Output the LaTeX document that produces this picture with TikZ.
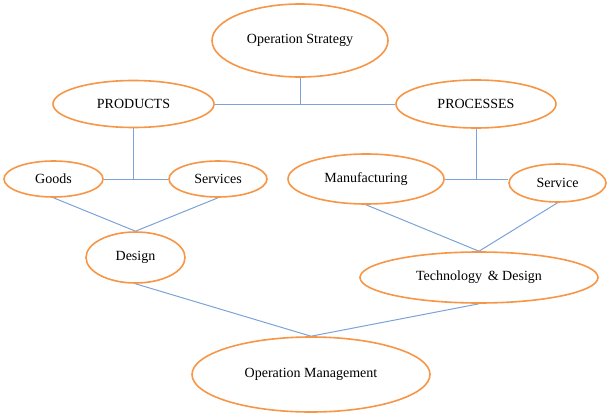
\documentclass[tikz,border=0pt]{standalone}
\usepackage{fontspec}
\setmainfont{Liberation Serif}
\usetikzlibrary{shapes.geometric}
\pgfdeclarelayer{background}
\pgfsetlayers{background,main}
\definecolor{ovalorange}{HTML}{F79646}
\definecolor{linkblue}{HTML}{7BA3D8}
\begin{document}
\begin{tikzpicture}[x=1pt,y=-1pt,
  oval/.style={ellipse,draw=ovalorange,line width=1.6pt,fill=white,inner sep=0pt,
    font=\fontsize{14}{16}\selectfont},
  link/.style={draw=linkblue,line width=1pt}]
\useasboundingbox (0,0) rectangle (607,412);
\node[oval,minimum width=176pt,minimum height=73pt] (strat) at (300,40.5) {Operation Strategy};
\node[oval,minimum width=161pt,minimum height=47pt] (prod) at (133.5,104) {PRODUCTS};
\node[oval,minimum width=160pt,minimum height=48pt] (proc) at (476,104) {PROCESSES};
\node[oval,minimum width=99pt,minimum height=36pt] (goods) at (53.5,179) {Goods};
\node[oval,minimum width=98pt,minimum height=36pt] (serv) at (218,179) {Services};
\node[oval,minimum width=156pt,minimum height=50pt] (manu) at (366,179) {Manufacturing};
\node[oval,minimum width=97pt,minimum height=38pt] (service) at (557.5,183) {Service};
\node[oval,minimum width=99pt,minimum height=51pt] (design) at (135.5,257.5) {Design};
\node[oval,minimum width=238pt,minimum height=51pt] (tech) at (479,277.5) {Technology \,\& Design};
\node[oval,minimum width=238pt,minimum height=75pt] (om) at (311,374.5) {Operation Management};
\begin{pgfonlayer}{background}
\draw[link] (prod.east) -- (proc.west);
\draw[link] (strat.south) -- (strat.south |- prod.east);
\draw[link] (goods.east) -- (serv.west);
\draw[link] (prod.south) -- (prod.south |- goods.east);
\draw[link] (manu.east) -- (service.west |- manu.east);
\draw[link] (proc.south) -- (proc.south |- manu.east);
\draw[link] (goods.south) -- (design.north);
\draw[link] (serv.south) -- (design.north);
\draw[link] (manu.south) -- (tech.north);
\draw[link] (service.south) -- (tech.north);
\draw[link] (design.south) -- (om.north);
\draw[link] (tech.south) -- (om.north);
\end{pgfonlayer}
\end{tikzpicture}
\end{document}
